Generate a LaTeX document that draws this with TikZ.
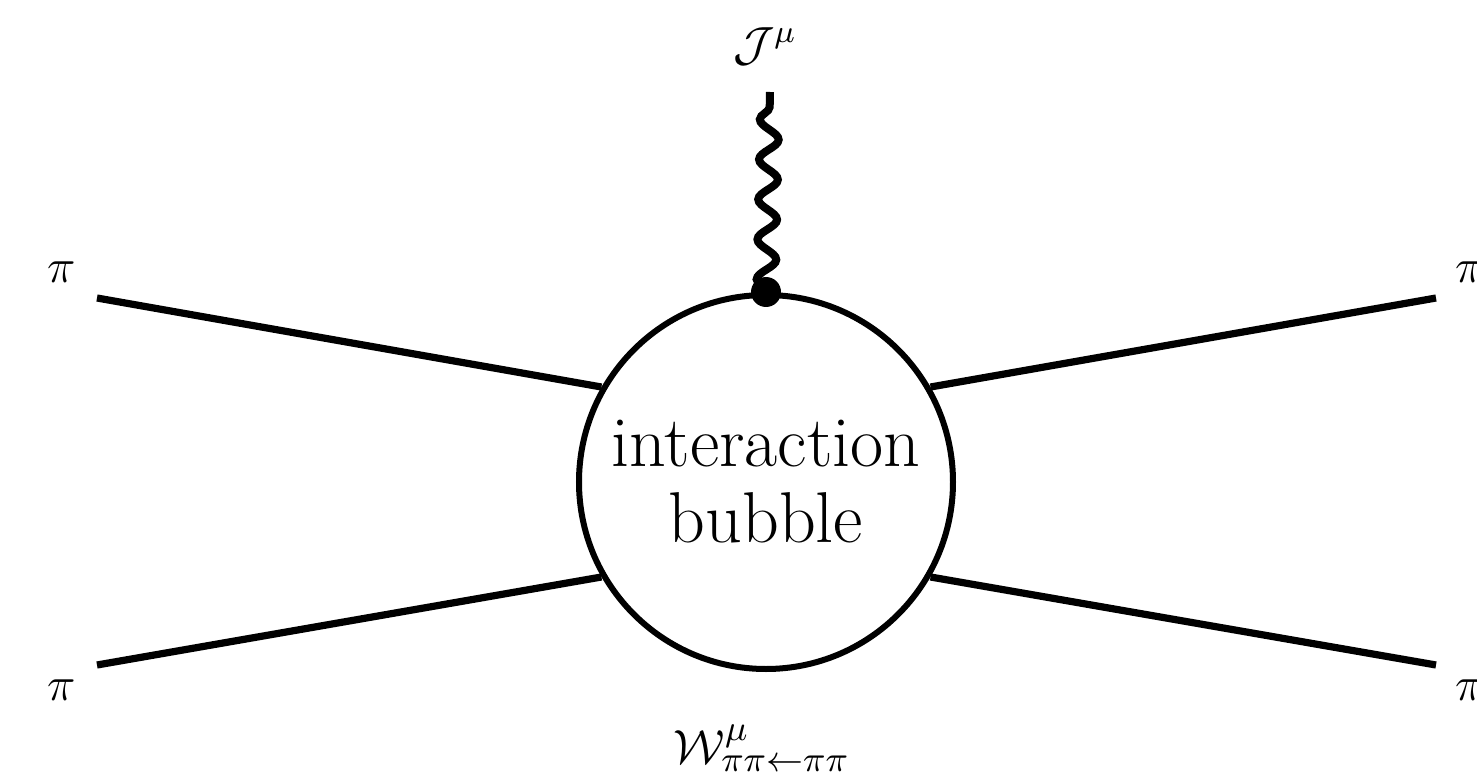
\documentclass[tikz,border=0pt]{standalone}
\usepackage{amsmath, amssymb}
\usepackage{tikz}
\usetikzlibrary{decorations.pathmorphing,positioning}

\begin{document}
\begin{tikzpicture}[x=1pt, y=1pt,
  every node/.style={font=\large},
  bubble/.style={circle, draw, line width=1.5pt, minimum size=93.5pt, inner sep=0pt, align=center, font=\fontsize{18}{19}\selectfont},
  pion/.style={line width=1.8pt},
  photon/.style={line width=2pt, decorate, decoration={snake, segment length=10pt, amplitude=2.4pt}},
  vertex/.style={circle, fill=black, minimum size=7.5pt, inner sep=0pt}
]
  \useasboundingbox (-191.5,-75) rectangle (177.75,120.5);
  \node[bubble] (blob) at (0,0) {interaction\\bubble};
  \coordinate (inup) at (-167.25,46);
  \coordinate (indown) at (-167.25,-45.75);
  \coordinate (outup) at (167.5,46);
  \coordinate (outdown) at (167.5,-45.75);
  \coordinate (jtop) at (1,97.5);
  \node (piinup) at (-176,52.5) {$\pi$};
  \node (piindown) at (-176,-52) {$\pi$};
  \node (pioutup) at (176,52.5) {$\pi$};
  \node (pioutdown) at (176,-52) {$\pi$};
  \node (jlab) at (-0.25,109) {$\mathcal{J}^{\mu}$};
  \node[font=\fontsize{13}{15}\selectfont] (wlab) at (-1,-66.5) {$\mathcal{W}^{\mu}_{\pi\pi\leftarrow\pi\pi}$};
  \draw[pion] (inup) -- (blob.150);
  \draw[pion] (indown) -- (blob.210);
  \draw[pion] (blob.30) -- (outup);
  \draw[pion] (blob.330) -- (outdown);
  \draw[photon] (blob.north) -- (jtop);
  \node[vertex] (vtx) at (blob.north) {};
\end{tikzpicture}
\end{document}
